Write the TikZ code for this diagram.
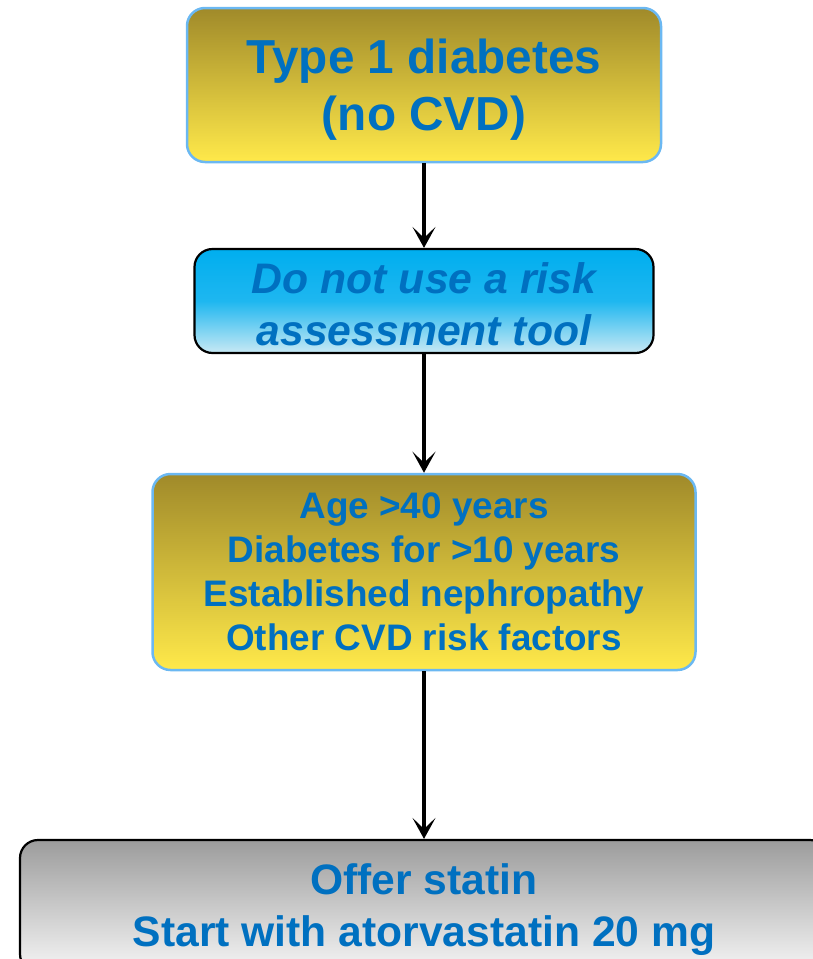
\documentclass[tikz,border=0pt]{standalone}
\usepackage{fontspec}
\setmainfont{Liberation Sans}
\usetikzlibrary{arrows.meta,positioning}
\definecolor{txtblue}{HTML}{0070C0}
\definecolor{edgeblue}{HTML}{6BB8F2}
\definecolor{goldtop}{HTML}{A08A2A}
\definecolor{goldbot}{HTML}{FFE94A}
\definecolor{cyantop}{HTML}{00AEEF}
\definecolor{cyanbot}{HTML}{C8E9F4}
\definecolor{greytop}{HTML}{9C9C9C}
\definecolor{greybot}{HTML}{F6F6F6}
\begin{document}
\begin{tikzpicture}[x=1pt,y=-1pt,
    box/.style={rounded corners=18pt, align=center, text=txtblue, inner sep=0pt},
    goldbox/.style={box, draw=edgeblue, line width=2.5pt, top color=goldtop, bottom color=goldbot},
    arr/.style={line width=4pt, -{Stealth[length=21pt,width=23pt,inset=11pt]}}]
    \useasboundingbox (0,0) rectangle (813,959);
    \clip (0,0) rectangle (813,959);
    \node[goldbox, minimum width=474pt, minimum height=154pt,
        font=\fontsize{47.7}{57}\selectfont\bfseries] (type1) at (424,85) {\rule{0pt}{44pt}Type 1 diabetes\\(no CVD)};
    \node[box, draw=black, line width=2.2pt, top color=cyantop, bottom color=cyanbot, middle color=cyantop!85!cyanbot,
        minimum width=459pt, minimum height=104pt,
        font=\fontsize{42.7}{52}\selectfont\bfseries\itshape] (notool) at (424,301) {\rule{0pt}{37pt}Do not use a risk\\assessment tool};
    \node[goldbox, minimum width=543pt, minimum height=196pt,
        font=\fontsize{36.9}{44}\selectfont\bfseries] (factors) at (424,572)
        {Age >40 years\\Diabetes for >10 years\\Established nephropathy\\Other CVD risk factors};
    \node[box, draw=black, line width=2.2pt, top color=greytop, bottom color=greybot,
        minimum width=808pt, minimum height=132pt,
        font=\fontsize{42.6}{52}\selectfont\bfseries] (statin) at (424,906)
        {\rule{0pt}{39pt}Offer statin\\Start with atorvastatin 20 mg};
    \draw[arr] (type1.south) -- (notool.north);
    \draw[arr] (notool.south) -- (factors.north);
    \draw[arr] (factors.south) -- (statin.north);
\end{tikzpicture}
\end{document}
